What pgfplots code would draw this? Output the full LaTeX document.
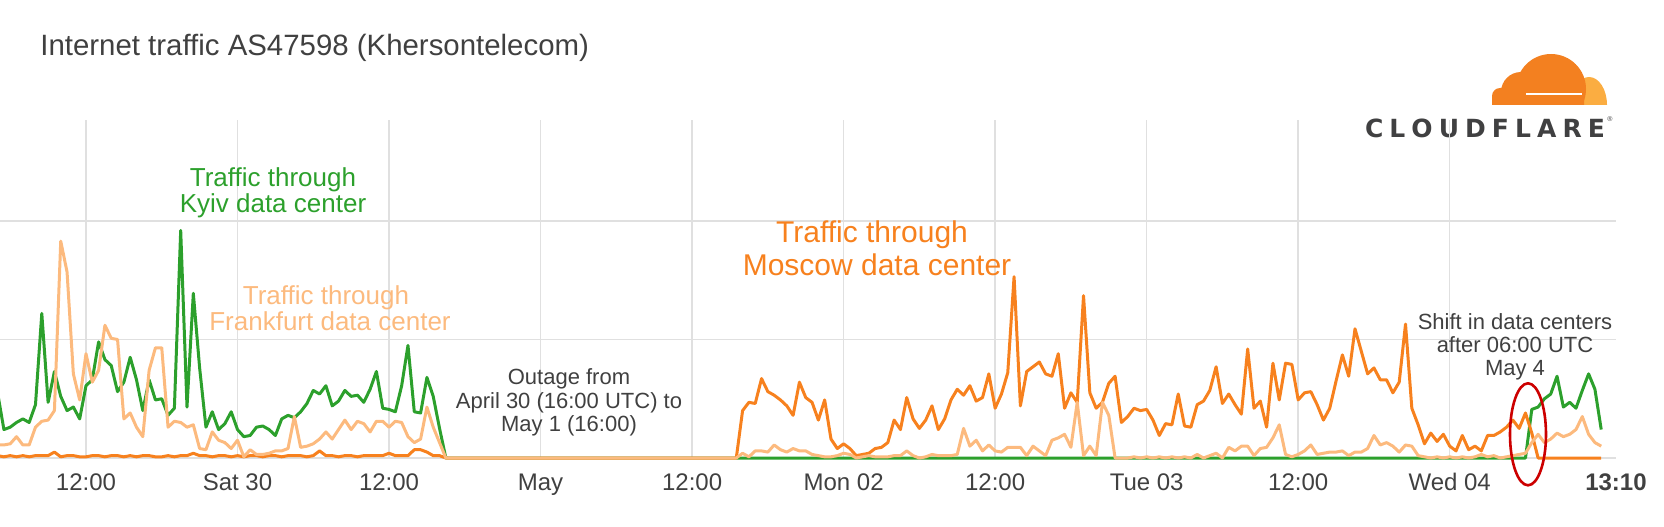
\documentclass[border=0pt]{standalone}
\usepackage{fontspec}
\setmainfont{Liberation Sans}
\newfontfamily\cffont{DejaVu Sans}
\usepackage{pgfplots}
\pgfplotsset{compat=1.18}
\definecolor{kyiv}{RGB}{44,160,44}
\definecolor{msk}{RGB}{247,129,30}
\definecolor{fra}{RGB}{252,186,126}
\definecolor{txt}{RGB}{64,64,64}
\definecolor{gridc}{RGB}{224,224,224}
\definecolor{cfo}{RGB}{243,128,32}
\definecolor{cfl}{RGB}{251,173,65}
\definecolor{cfg}{RGB}{64,64,65}
\begin{document}
\begin{tikzpicture}
\useasboundingbox (0,0) rectangle (832pt,263pt);
% title
\node[anchor=base west, inner sep=0, text=txt, font=\fontsize{14.7}{18}\selectfont] at (20pt,235pt) {Internet traffic AS47598 (Khersontelecom)};
% cloudflare logo
\begin{scope}
\clip (740pt,210.5pt) rectangle (810pt,250pt);
\fill[cfl] (794.5pt,210.5pt) ellipse (9pt and 14pt);
\fill[cfo] (775.5pt,218.5pt) circle (17.5pt);
\fill[cfo] (760.5pt,217pt) circle (10pt);
\fill[cfo, rounded corners=4pt] (746pt,206pt) rectangle (792pt,219pt);
\end{scope}
\draw[white, line width=0.9pt] (763pt,216pt) -- (791pt,216pt);
\node[anchor=base, inner sep=0, text=cfg, font=\cffont\bfseries\fontsize{12.5}{14}\selectfont] at (742.5pt,194.5pt) {\makebox[120pt][s]{C\hfill L\hfill O\hfill U\hfill D\hfill F\hfill L\hfill A\hfill R\hfill E}};
\node[inner sep=0, text=cfg, font=\fontsize{3.5}{4}\selectfont] at (805pt,203.5pt) {®};
\begin{axis}[
  at={(0pt,34pt)}, anchor=south west,
  scale only axis, width=808pt, height=169pt,
  xmin=-6.81, xmax=121.17, ymin=0, ymax=2.852,
  axis line style={draw=none},
  major tick length=0pt,
  ytick={0,1,2}, yticklabels={},
  xtick={0,12,24,36,48,60,72,84,96,108},
  xticklabels={12:00,Sat 30,12:00,May,12:00,Mon 02,12:00,Tue 03,12:00,Wed 04},
  extra x ticks={121.1667},
  extra x tick labels={\textbf{13:10}},
  extra x tick style={grid=none},
  xticklabel style={anchor=base, yshift=-16pt, text=txt, font=\fontsize{12}{14}\selectfont},
  grid=major, major grid style={gridc, line width=0.7pt},
  clip=false,
]
% Kyiv (green)
\addplot[kyiv, line width=1.5pt, line join=round] coordinates {
(-7,0.55)(-6.5,0.24)(-6,0.26)(-5.5,0.30)(-5,0.33)(-4.5,0.30)(-4,0.45)(-3.5,1.22)(-3,0.47)(-2.5,0.73)
(-2,0.52)(-1.5,0.40)(-1,0.43)(-0.5,0.33)(0,0.61)(0.5,0.66)(1,0.98)(1.5,0.83)(2,0.78)(2.5,0.56)
(3,0.64)(3.5,0.85)(4,0.66)(4.5,0.40)(5,0.66)(5.5,0.49)(6,0.50)(6.5,0.36)(7,0.42)(7.5,1.92)
(8,0.43)(8.5,1.39)(9,0.76)(9.5,0.26)(10,0.39)(10.5,0.24)(11,0.29)(11.5,0.39)(12,0.24)(12.5,0.18)
(13,0.19)(13.5,0.26)(14,0.27)(14.5,0.24)(15,0.19)(15.5,0.33)(16,0.36)(16.5,0.34)(17,0.39)(17.5,0.46)
(18,0.57)(18.5,0.54)(19,0.61)(19.5,0.44)(20,0.48)(20.5,0.57)(21,0.52)(21.5,0.53)(22,0.47)(22.5,0.58)
(23,0.73)(23.5,0.42)(24,0.41)(24.5,0.39)(25,0.61)(25.5,0.95)(26,0.39)(26.5,0.38)(27,0.68)(27.5,0.52)
(28,0.25)(28.5,0)(114,0)(114.5,0.41)(115,0.43)(115.5,0.50)(116,0.54)(116.5,0.69)(117,0.43)(117.5,0.47)
(118,0.42)(118.5,0.57)(119,0.71)(119.5,0.58)(120,0.24)
};
% Moscow (dark orange)
\addplot[msk, line width=1.5pt, line join=round] coordinates {
(-7,0.02)(-6.5,0.01)(-6,0.02)(-5.5,0.01)(-5,0.02)(-4.5,0.01)(-4,0.02)(-3.5,0.02)(-3,0.02)(-2.5,0.05)
(-2,0.01)(-1.5,0.02)(-1,0.02)(-0.5,0.01)(0,0.01)(0.5,0.02)(1,0.02)(1.5,0.01)(2,0.02)(2.5,0.02)
(3,0.01)(3.5,0.02)(4,0.01)(4.5,0.02)(5,0.02)(5.5,0.01)(6,0.01)(6.5,0.02)(7,0.01)(7.5,0.02)
(8,0.02)(8.5,0.04)(9,0.02)(9.5,0.02)(10,0.01)(10.5,0.02)(11,0.02)(11.5,0.01)(12,0.02)(12.5,0.01)
(13,0.02)(13.5,0.02)(14,0.01)(14.5,0.02)(15,0.02)(15.5,0.01)(16,0.02)(16.5,0.02)(17,0.02)(17.5,0.01)
(18,0.02)(18.5,0.06)(19,0.02)(19.5,0.02)(20,0.01)(20.5,0.02)(21,0.02)(21.5,0.01)(22,0.02)(22.5,0.02)
(23,0.02)(23.5,0.02)(24,0.04)(24.5,0.02)(25,0.02)(25.5,0.02)(26,0.07)(26.5,0.07)(27,0.05)(27.5,0.02)
(28,0.02)(28.5,0)(51.5,0)(52,0.40)(52.5,0.47)(53,0.46)(53.5,0.67)(54,0.56)(54.5,0.53)(55,0.49)
(55.5,0.44)(56,0.36)(56.5,0.64)(57,0.51)(57.5,0.47)(58,0.32)(58.5,0.49)(59,0.16)(59.5,0.08)(60,0.12)
(60.5,0.08)(61,0.02)(61.5,0.03)(62,0.04)(62.5,0.08)(63,0.09)(63.5,0.13)(64,0.32)(64.5,0.24)(65,0.51)
(65.5,0.33)(66,0.25)(66.5,0.32)(67,0.44)(67.5,0.24)(68,0.33)(68.5,0.49)(69,0.58)(69.5,0.53)(70,0.61)
(70.5,0.48)(71,0.51)(71.5,0.71)(72,0.42)(72.5,0.54)(73,0.72)(73.5,1.53)(74,0.44)(74.5,0.73)(75,0.77)
(75.5,0.81)(76,0.71)(76.5,0.69)(77,0.88)(77.5,0.42)(78,0.55)(78.5,0.47)(79,1.37)(79.5,0.55)(80,0.42)
(80.5,0.47)(81,0.63)(81.5,0.69)(82,0.30)(82.5,0.35)(83,0.42)(83.5,0.40)(84,0.41)(84.5,0.32)(85,0.19)
(85.5,0.29)(86,0.28)(86.5,0.54)(87,0.27)(87.5,0.26)(88,0.45)(88.5,0.48)(89,0.57)(89.5,0.77)(90,0.46)
(90.5,0.54)(91,0.45)(91.5,0.37)(92,0.92)(92.5,0.42)(93,0.48)(93.5,0.26)(94,0.80)(94.5,0.49)(95,0.80)
(95.5,0.79)(96,0.49)(96.5,0.55)(97,0.56)(97.5,0.45)(98,0.32)(98.5,0.42)(99,0.65)(99.5,0.87)(100,0.69)
(100.5,1.09)(101,0.90)(101.5,0.71)(102,0.76)(102.5,0.66)(103,0.66)(103.5,0.55)(104,0.64)(104.5,1.13)(105,0.42)
(105.5,0.28)(106,0.12)(106.5,0.21)(107,0.14)(107.5,0.20)(108,0.10)(108.5,0.06)(109,0.19)(109.5,0.07)(110,0.10)
(110.5,0.06)(111,0.19)(111.5,0.19)(112,0.22)(112.5,0.26)(113,0.32)(113.5,0.25)(114,0.38)(114.5,0.21)(115,0)
(120,0)
};
% Frankfurt (light orange)
\addplot[fra, line width=1.5pt, line join=round] coordinates {
(-7,0.11)(-6.5,0.11)(-6,0.12)(-5.5,0.18)(-5,0.11)(-4.5,0.11)(-4,0.26)(-3.5,0.31)(-3,0.32)(-2.5,0.40)
(-2,1.83)(-1.5,1.57)(-1,0.71)(-0.5,0.49)(0,0.88)(0.5,0.64)(1,0.74)(1.5,1.12)(2,1.01)(2.5,1.00)
(3,0.33)(3.5,0.38)(4,0.26)(4.5,0.18)(5,0.74)(5.5,0.93)(6,0.93)(6.5,0.26)(7,0.31)(7.5,0.30)
(8,0.26)(8.5,0.28)(9,0.08)(9.5,0.07)(10,0.22)(10.5,0.15)(11,0.13)(11.5,0.08)(12,0.15)(12.5,0.01)
(13,0.07)(13.5,0.03)(14,0.03)(14.5,0.04)(15,0.06)(15.5,0.06)(16,0.08)(16.5,0.35)(17,0.09)(17.5,0.10)
(18,0.12)(18.5,0.16)(19,0.22)(19.5,0.16)(20,0.24)(20.5,0.32)(21,0.24)(21.5,0.31)(22,0.29)(22.5,0.22)
(23,0.31)(23.5,0.31)(24,0.26)(24.5,0.31)(25,0.30)(25.5,0.18)(26,0.13)(26.5,0.16)(27,0.43)(27.5,0.26)
(28.5,0)(51.5,0)(52,0.04)(52.5,0.01)(53,0.06)(53.5,0.06)(54,0.05)(54.5,0.11)(55,0.07)(55.5,0.05)
(56,0.08)(56.5,0.06)(57,0.06)(57.5,0.03)(58,0.02)(58.5,0.01)(59,0.01)(59.5,0.02)(60,0.04)(60.5,0.03)
(61,0.00)(61.5,0.01)(62,0.02)(62.5,0.01)(63,0.01)(63.5,0.01)(64,0.02)(64.5,0.02)(65,0.06)(65.5,0.02)
(66,0.00)(66.5,0.01)(67,0.03)(67.5,0.02)(68,0.02)(68.5,0.02)(69,0.03)(69.5,0.25)(70,0.10)(70.5,0.15)
(71,0.06)(71.5,0.11)(72,0.06)(72.5,0.05)(73,0.09)(73.5,0.09)(74,0.09)(74.5,0.02)(75,0.10)(75.5,0.06)
(76,0.02)(76.5,0.15)(77,0.17)(77.5,0.20)(78,0.09)(78.5,0.47)(79,0.02)(79.5,0.10)(80,0.02)(80.5,0.47)
(81,0.36)(81.5,0.00)(82,0.00)(82.5,0.00)(83,0.01)(83.5,0.00)(84,0.01)(84.5,0.00)(85,0.01)(85.5,0.00)
(86,0.01)(86.5,0.00)(87,0.01)(87.5,0.00)(88,0.03)(88.5,0.00)(89,0.02)(89.5,0.04)(90,0.00)(90.5,0.09)
(91,0.06)(91.5,0.10)(92,0.10)(92.5,0.02)(93,0.08)(93.5,0.09)(94,0.17)(94.5,0.28)(95,0.03)(95.5,0.01)
(96,0.03)(96.5,0.06)(97,0.11)(97.5,0.03)(98,0.04)(98.5,0.05)(99,0.05)(99.5,0.06)(100,0.02)(100.5,0.05)
(101,0.05)(101.5,0.08)(102,0.19)(102.5,0.11)(103,0.13)(103.5,0.10)(104,0.05)(104.5,0.11)(105,0.10)(105.5,0.02)
(106,0.01)(106.5,0.00)(107,0.01)(107.5,0.00)(108,0.01)(108.5,0.00)(109,0.01)(109.5,0.00)(110,0.01)(110.5,0.03)
(111,0.01)(111.5,0.02)(112,0.00)(112.5,0.01)(113,0.02)(113.5,0.03)(114,0.04)(114.5,0.13)(115,0.20)(115.5,0.13)
(116,0.16)(116.5,0.21)(117,0.18)(117.5,0.20)(118,0.24)(118.5,0.35)(119,0.20)(119.5,0.13)(120,0.10)
};
\draw[red!80!black, line width=1.3pt] (axis cs:114.2,0.2) ellipse (9pt and 25.5pt);
\end{axis}
% annotations
\node[anchor=base, inner sep=0, text=kyiv, font=\fontsize{13}{15}\selectfont] at (136.5pt,170pt) {Traffic through};
\node[anchor=base, inner sep=0, text=kyiv, font=\fontsize{13}{15}\selectfont] at (136.5pt,157pt) {Kyiv data center};
\node[anchor=base, inner sep=0, text=fra, font=\fontsize{13}{15}\selectfont] at (163pt,111pt) {Traffic through};
\node[anchor=base, inner sep=0, text=fra, font=\fontsize{13}{15}\selectfont] at (165pt,98pt) {Frankfurt data center};
\node[anchor=base, inner sep=0, text=msk, font=\fontsize{15}{18}\selectfont] at (436pt,142pt) {Traffic through};
\node[anchor=base, inner sep=0, text=msk, font=\fontsize{15}{18}\selectfont] at (438.5pt,125.5pt) {Moscow data center};
\node[anchor=base, inner sep=0, text=txt, font=\fontsize{11}{13}\selectfont] at (284.5pt,70.6pt) {Outage from};
\node[anchor=base, inner sep=0, text=txt, font=\fontsize{11}{13}\selectfont] at (284.5pt,59pt) {April 30 (16:00 UTC) to};
\node[anchor=base, inner sep=0, text=txt, font=\fontsize{11}{13}\selectfont] at (284.5pt,47.5pt) {May 1 (16:00)};
\node[anchor=base, inner sep=0, text=txt, font=\fontsize{11}{13}\selectfont] at (757.5pt,98.5pt) {Shift in data centers};
\node[anchor=base, inner sep=0, text=txt, font=\fontsize{11}{13}\selectfont] at (757.5pt,87pt) {after 06:00 UTC};
\node[anchor=base, inner sep=0, text=txt, font=\fontsize{11}{13}\selectfont] at (757.5pt,75.5pt) {May 4};
\end{tikzpicture}
\end{document}
